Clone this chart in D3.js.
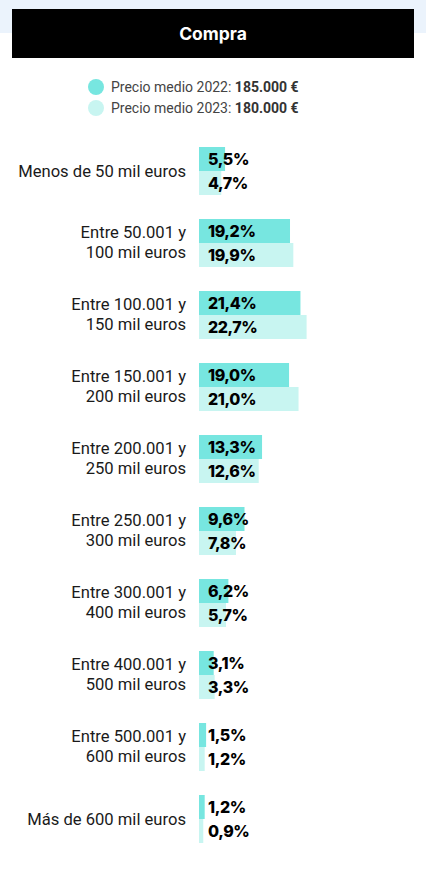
<!DOCTYPE html>
<html>
<head>
<meta charset="utf-8">
<script src="https://cdn.jsdelivr.net/npm/d3@7"></script>
<style>
  html, body { margin: 0; padding: 0; background: #fff; }
  svg { display: block; }
</style>
</head>
<body>
<div id="chart"></div>
<script>
const categories = [
  "Menos de 50 mil euros",
  "Entre 50.001 y|100 mil euros",
  "Entre 100.001 y|150 mil euros",
  "Entre 150.001 y|200 mil euros",
  "Entre 200.001 y|250 mil euros",
  "Entre 250.001 y|300 mil euros",
  "Entre 300.001 y|400 mil euros",
  "Entre 400.001 y|500 mil euros",
  "Entre 500.001 y|600 mil euros",
  "Más de 600 mil euros"
];
const values2022 = [5.5, 19.2, 21.4, 19.0, 13.3, 9.6, 6.2, 3.1, 1.5, 1.2];
const values2023 = [4.7, 19.9, 22.7, 21.0, 12.6, 7.8, 5.7, 3.3, 1.2, 0.9];
const seriesKeys = ["2022", "2023"];
const legendLabels = ["Precio medio 2022: ", "Precio medio 2023: "];
const legendValues = ["185.000 €", "180.000 €"];
const title = "Compra";

const W = 426, H = 881;
const colors = { "2022": "#77e6e0", "2023": "#c8f5f1" };

const rows = categories.map((c, i) => ({ cat: c, "2022": values2022[i], "2023": values2023[i] }));

const svg = d3.select("#chart").append("svg")
  .attr("width", W).attr("height", H);

// top band + header
svg.append("rect").attr("x", 0).attr("y", 0).attr("width", W).attr("height", 33).attr("fill", "#ebf3fc");
svg.append("rect").attr("x", 12).attr("y", 9).attr("width", 402).attr("height", 49).attr("fill", "#000");
svg.append("text").attr("x", 213).attr("y", 40).attr("text-anchor", "middle")
  .attr("font-family", "Inter, 'Open Sans', sans-serif").attr("font-weight", 700)
  .attr("font-size", 17.5).attr("fill", "#fff").text(title);

// legend
const legend = svg.append("g");
seriesKeys.forEach((k, i) => {
  const y = 87 + i * 21;
  legend.append("circle").attr("cx", 96).attr("cy", y).attr("r", 8).attr("fill", colors[k]);
  const t = legend.append("text").attr("x", 111).attr("y", y + 5)
    .attr("font-family", "Roboto, sans-serif").attr("font-size", 14).attr("fill", "#444");
  t.append("tspan").text(legendLabels[i]);
  t.append("tspan").attr("font-weight", 700).attr("fill", "#333").text(legendValues[i]);
});

// scales
const y = d3.scaleBand().domain(categories).range([147, 147 + 10 * 72 - 24]).paddingInner(1 / 3);
const ySub = d3.scaleBand().domain(seriesKeys).range([0, y.bandwidth()]);
const x = d3.scaleLinear().domain([0, 100]).range([199, 199 + 474]);

const groups = svg.append("g").selectAll("g").data(rows).join("g")
  .attr("transform", d => `translate(0,${y(d.cat)})`);

groups.selectAll("rect").data(d => seriesKeys.map(k => ({ k, v: d[k] }))).join("rect")
  .attr("x", x(0))
  .attr("y", d => ySub(d.k))
  .attr("width", d => x(d.v) - x(0))
  .attr("height", ySub.bandwidth())
  .attr("fill", d => colors[d.k]);

groups.selectAll("text.val").data(d => seriesKeys.map(k => ({ k, v: d[k] }))).join("text")
  .attr("class", "val")
  .attr("x", 208)
  .attr("y", d => ySub(d.k) + ySub.bandwidth() / 2 + 6)
  .attr("font-family", "Inter, sans-serif").attr("font-weight", 800)
  .attr("font-size", 16).attr("fill", "#000")
  .attr("letter-spacing", -0.4)
  .text(d => d3.format(".1f")(d.v).replace(".", ",") + "%");

// category labels
groups.each(function (d) {
  const lines = d.cat.split("|");
  const mid = y.bandwidth() / 2;
  const t = d3.select(this).append("text")
    .attr("text-anchor", "end")
    .attr("font-family", "Roboto, sans-serif").attr("font-size", 16.6).attr("fill", "#1a1a1a");
  if (lines.length === 1) {
    t.append("tspan").attr("x", 186).attr("y", mid + 5.5).text(lines[0]);
  } else {
    t.append("tspan").attr("x", 186).attr("y", mid - 5).text(lines[0]);
    t.append("tspan").attr("x", 186).attr("y", mid + 15).text(lines[1]);
  }
});
</script>
</body>
</html>
